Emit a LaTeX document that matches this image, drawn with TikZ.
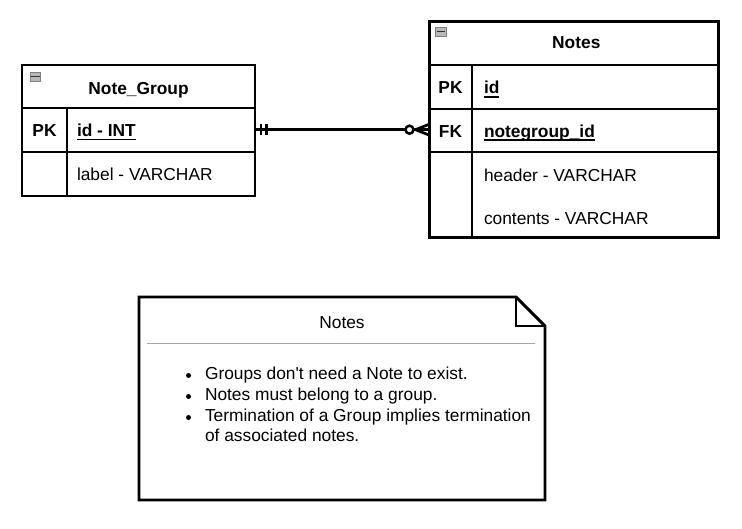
\documentclass[tikz,border=0pt]{standalone}
\usepackage{fontspec}
\setmainfont{Liberation Sans}[Ligatures=TeXOff]
\usetikzlibrary{calc}
\newcommand{\fsz}{\fontsize{17.35}{20}\selectfont}
\begin{document}
\begin{tikzpicture}[x=1pt,y=-1pt,
  every node/.style={inner sep=0pt, outer sep=0pt, font=\fsz},
  entity/.style={draw, line width=2.9pt, rectangle},
  rowbox/.style={rectangle},
  hline/.style={line width=2.9pt},
  rline/.style={line width=2.3pt},
  titletext/.style={font=\fsz\bfseries},
  keytext/.style={font=\fsz\bfseries},
  fieldtext/.style={font=\fsz},
  keyfield/.style={font=\fsz\bfseries},
  uline/.style={line width=1.5pt},
  icon/.style={draw=black!50, fill=black!28, line width=0.9pt, minimum width=10.5pt, minimum height=9pt,
    path picture={\draw[line width=1.5pt, black!80] ([xshift=1pt]path picture bounding box.west) -- ([xshift=-1pt]path picture bounding box.east);}},
  conn/.style={line width=2.7pt},
  notebox/.style={line width=2.9pt, line join=miter},
  sepline/.style={line width=1.4pt, draw=black!35},
  bulletdot/.style={circle, fill=black, minimum size=5pt}
]
\useasboundingbox (0,0) rectangle (742,529);
\fill[white] (0,0) rectangle (742,529);

% ---------- Note_Group ----------
\node[entity, minimum width=233pt, minimum height=131pt, anchor=north west] (ng) at (22,65) {};
\node[rowbox, minimum width=233pt, minimum height=44pt, anchor=north west] (ngpk) at (22,108) {};
\node[rowbox, minimum width=233pt, minimum height=44pt, anchor=north west] (nglab) at (22,152) {};
\coordinate (ngdiv) at (67,108);
\draw[hline] (ngpk.north west) -- (ngpk.north east);
\draw[rline] (ngpk.south west) -- (ngpk.south east);
\draw[rline] (ngdiv) -- (ngdiv |- ng.south);
\node[icon] (ngicon) at (35.5,76.5) {};
\node[titletext, anchor=base] (ngt) at (138.5,94.3) {Note\_Group};
\node[keytext, anchor=base] (ngpkk) at (44.5,136.7) {PK};
\node[keyfield, anchor=base west] (ngid) at (77,136.7) {id - INT};
\draw[uline] ([yshift=-2.8pt]ngid.base west) -- ([yshift=-2.8pt]ngid.base east);
\node[fieldtext, anchor=base west] (nglabt) at (77,180.7) {label - VARCHAR};

% ---------- Notes ----------
\node[entity, minimum width=289pt, minimum height=216pt, anchor=north west] (nt) at (429.5,21.5) {};
\node[rowbox, minimum width=289pt, minimum height=44pt, anchor=north west] (ntpk) at (429.5,65) {};
\node[rowbox, minimum width=289pt, minimum height=43pt, anchor=north west] (ntfk) at (429.5,109) {};
\coordinate (ntdiv) at (472.3,65);
\draw[hline] (ntpk.north west) -- (ntpk.north east);
\draw[rline] (ntpk.south west) -- (ntpk.south east);
\draw[rline] (ntfk.south west) -- (ntfk.south east);
\draw[rline] (ntdiv) -- (ntdiv |- nt.south);
\node[icon] (nticon) at (441,31.7) {};
\node[titletext, anchor=base] (ntt) at (576.3,48.3) {Notes};
\node[keytext, anchor=base] (ntpkk) at (450.5,94) {PK};
\node[keyfield, anchor=base west] (ntid) at (484,94) {id};
\draw[uline] ([yshift=-2.8pt]ntid.base west) -- ([yshift=-2.8pt]ntid.base east);
\node[keytext, anchor=base] (ntfkk) at (450.5,137.3) {FK};
\node[keyfield, anchor=base west] (ntng) at (484,137.3) {notegroup\_id};
\draw[uline] ([yshift=-2.8pt]ntng.base west) -- ([yshift=-2.8pt]ntng.base east);
\node[fieldtext, anchor=base west] (nthead) at (484,181.7) {header - VARCHAR};
\node[fieldtext, anchor=base west] (ntcont) at (484,224.3) {contents - VARCHAR};

% ---------- Connector ----------
\draw[conn] (ngpk.east |- 0,129.7) coordinate (cA) -- (ntfk.west |- 0,129.7) coordinate (cB);
\draw[conn] ([xshift=6pt,yshift=5.8pt]cA) -- ([xshift=6pt,yshift=-5.8pt]cA);
\draw[conn] ([xshift=11.7pt,yshift=5.8pt]cA) -- ([xshift=11.7pt,yshift=-5.8pt]cA);
\draw[conn] ([xshift=-14pt]cB) -- ([yshift=5.6pt]cB);
\draw[conn] ([xshift=-14pt]cB) -- ([yshift=-5.6pt]cB);
\draw[line width=2.5pt, fill=white] ([xshift=-20pt]cB) circle (4pt);

% ---------- Note ----------
\node[minimum width=406pt, minimum height=203pt, anchor=north west] (note) at (139,297) {};
\draw[notebox] (note.north west) -- ([xshift=-29pt]note.north east) -- ([yshift=-29pt]note.north east)
  -- (note.south east) -- (note.south west) -- cycle;
\draw[notebox] ([xshift=-29pt]note.north east) -- ++(0,29) -- ([yshift=-29pt]note.north east);
\node[fieldtext, anchor=base] (notet) at (342,328.3) {Notes};
\draw[sepline] (147,343.3) coordinate (sA) -- (535,343.3) coordinate (sB);
\node[bulletdot] (b1) at (188.5,375.5) {};
\node[bulletdot] (b2) at (188.5,396.5) {};
\node[bulletdot] (b3) at (188.5,417.5) {};
\node[fieldtext, anchor=base west] (l1) at (205,379.3) {Groups don't need a Note to exist.};
\node[fieldtext, anchor=base west] (l2) at (205,400.3) {Notes must belong to a group.};
\node[fieldtext, anchor=base west] (l3) at (205,421.3) {Termination of a Group implies termination};
\node[fieldtext, anchor=base west] (l4) at (205,441.8) {of associated notes.};
\end{tikzpicture}
\end{document}
